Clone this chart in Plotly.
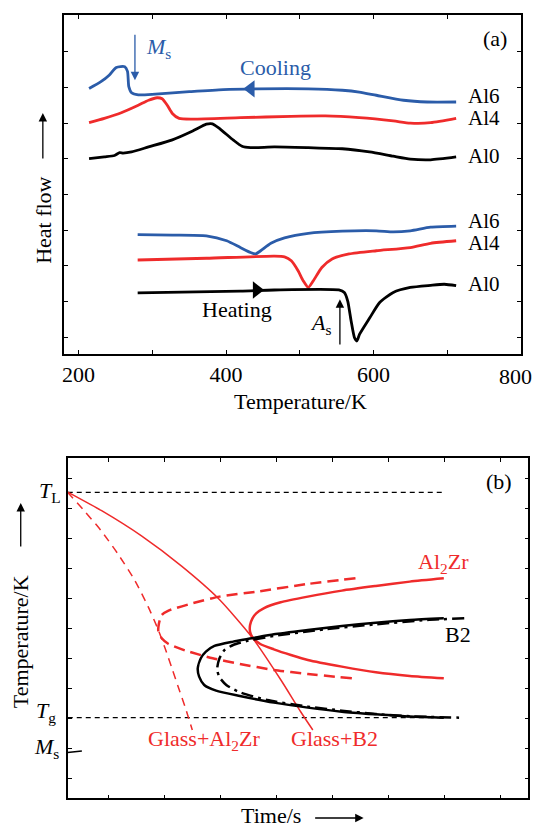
import plotly.graph_objects as go

BLUE = "#2b5ca9"
RED = "#ef2b2b"
FONT = "Liberation Serif"
FS = 22

# ---------------- Panel (a): DSC curves ----------------
cool_al6_T = [214.3, 230.4, 241.9, 251.2, 262.7, 266.4, 268.2, 271.9, 281.1, 304.1, 350.2, 396.3, 442.4,
              511.5, 557.6, 580.6, 603.7, 640.6, 672.8, 712.0]
cool_al6_H = [6.97, 7.16, 7.35, 7.56, 7.58, 7.45, 7.02, 6.85, 6.79, 6.81, 6.88, 6.94, 6.96,
              6.96, 6.92, 6.87, 6.78, 6.64, 6.59, 6.59]

cool_al4_T = [214.3, 235.0, 258.0, 281.0, 295.0, 306.5, 313.4, 320.3, 327.2, 336.4, 354.8, 419.4, 488.5,
              534.6, 580.6, 626.7, 649.8, 677.4, 712.0]
cool_al4_H = [6.01, 6.13, 6.29, 6.50, 6.64, 6.71, 6.68, 6.50, 6.27, 6.13, 6.11, 6.15, 6.19,
              6.20, 6.15, 6.06, 6.00, 6.01, 6.13]

cool_al0_T = [214.3, 235.0, 248.8, 255.8, 260.4, 271.9, 294.9, 327.2, 354.8, 373.3, 381.6, 391.7, 410.1,
              421.7, 433.2, 465.4, 511.5, 557.6, 594.5, 626.7, 649.8, 677.4, 712.0]
cool_al0_H = [5.00, 5.05, 5.09, 5.17, 5.16, 5.19, 5.33, 5.53, 5.78, 5.97, 5.98, 5.84, 5.52,
              5.35, 5.31, 5.33, 5.31, 5.28, 5.19, 5.07, 4.99, 4.97, 5.05]

heat_al6_T = [280.2, 327.2, 373.3, 400.9, 419.4, 433.2, 440.1, 447.0, 460.8, 479.3, 511.5, 557.6,
              603.7, 626.7, 649.8, 677.4, 712.0]
heat_al6_H = [2.87, 2.86, 2.84, 2.70, 2.51, 2.37, 2.33, 2.42, 2.63, 2.78, 2.91, 2.97,
              2.98, 2.95, 2.98, 3.08, 3.11]

heat_al4_T = [280.2, 373.3, 465.4, 479.3, 488.5, 497.7, 504.6, 511.5, 518.4, 529.9, 543.8, 566.8,
              603.7, 649.8, 677.4, 712.0]
heat_al4_H = [2.16, 2.21, 2.27, 2.25, 2.14, 1.86, 1.58, 1.39, 1.58, 1.95, 2.19, 2.33,
              2.42, 2.51, 2.63, 2.70]

heat_al0_T = [280.2, 419.4, 465.4, 553.0, 560.4, 565.0, 569.6, 574.2, 577.4, 581.1, 594.9, 608.3,
              626.7, 649.8, 677.4, 695.9, 712.0]
heat_al0_H = [1.24, 1.29, 1.32, 1.32, 1.25, 1.01, 0.45, -0.02, -0.11, 0.08, 0.54, 0.97,
              1.25, 1.39, 1.45, 1.48, 1.44]

a_xticks = [200, 300, 400, 500, 600, 700, 800]
a_xticklabels = ["200", "", "400", "", "600", "", ""]   # "800" drawn separately so it stays inside the page
a_last_label = "800"
a_yticks = [0, 1, 2, 3, 4, 5, 6, 7, 8]

# direction markers on the curves
cool_arrow_T, cool_arrow_H = [433.6], [6.96]
heat_arrow_T, heat_arrow_H = [441.5], [1.32]

# ---------------- Panel (b): TTT diagram ----------------
TL_level = 9.53
Tg_level = 2.02
Ms_seg_X = [0.273, 0.528]
Ms_seg_Y = [0.856, 0.911]

cool_solid_X = [0.276, 0.881, 1.593, 2.304, 2.980, 3.568, 4.084, 4.440, 4.654]
cool_solid_Y = [9.540, 8.920, 8.080, 7.080, 5.970, 4.700, 3.277, 2.210, 1.610]

cool_dash_X = [0.273, 0.558, 0.862, 1.165, 1.469, 1.712, 1.894, 2.015, 2.137, 2.258, 2.380, 2.501]
cool_dash_Y = [9.533, 8.944, 8.278, 7.500, 6.611, 5.722, 4.944, 4.333, 3.667, 3.000, 2.333, 1.611]

al2zr_solid_X = [6.994, 6.387, 5.780, 5.173, 4.565, 4.080, 3.776, 3.643, 3.576, 3.533, 3.533, 3.576,
                 3.715, 3.958, 4.262, 4.565, 5.173, 5.780, 6.387, 6.994]
al2zr_solid_Y = [6.667, 6.556, 6.411, 6.256, 6.056, 5.867, 5.667, 5.500, 5.333, 5.111, 4.889, 4.700,
                 4.478, 4.300, 4.111, 3.944, 3.722, 3.533, 3.411, 3.333]

al2zr_dash_X = [5.416, 4.565, 3.655, 2.987, 2.501, 2.076, 1.955, 1.906, 1.894, 1.955, 2.076, 2.380,
                2.865, 3.351, 3.958, 4.565, 5.355]
al2zr_dash_Y = [6.667, 6.478, 6.222, 6.056, 5.833, 5.589, 5.444, 5.167, 4.889, 4.667, 4.478, 4.256,
                4.000, 3.811, 3.611, 3.478, 3.333]

b2_solid_X = [6.994, 6.387, 5.780, 5.173, 4.565, 3.958, 3.564, 3.230, 2.896, 2.744, 2.653, 2.598,
              2.623, 2.714, 2.926, 3.351, 3.958, 4.565, 5.173, 5.780, 6.387, 6.994]
b2_solid_Y = [5.333, 5.278, 5.189, 5.078, 4.944, 4.800, 4.667, 4.556, 4.411, 4.222, 4.000, 3.667,
              3.389, 3.111, 2.922, 2.744, 2.522, 2.356, 2.222, 2.133, 2.056, 2.022]

b2_dashdot_X = [7.359, 6.691, 5.780, 4.869, 3.958, 3.473, 3.230, 3.078, 2.987, 2.944, 2.987, 3.108,
                3.351, 3.837, 4.565, 5.173, 5.780, 6.387, 7.267]
b2_dashdot_Y = [5.333, 5.278, 5.133, 4.967, 4.744, 4.578, 4.444, 4.278, 4.000, 3.633, 3.367, 3.111,
                2.867, 2.611, 2.389, 2.256, 2.144, 2.067, 2.022]

b_xticks = [1, 2, 3, 4, 5, 6, 7, 8]
b_yticks = [0, 1, 2, 3, 4, 5, 6, 7, 8, 9, 10]

fig = go.Figure()

def line(x, y, color, width, dash="solid", xa="x", ya="y"):
    fig.add_trace(go.Scatter(x=x, y=y, mode="lines", xaxis=xa, yaxis=ya,
                             line=dict(color=color, width=width, dash=dash, shape="spline", smoothing=0.6),
                             hoverinfo="skip", showlegend=False))

# panel (a)
line(cool_al6_T, cool_al6_H, BLUE, 2.8)
line(cool_al4_T, cool_al4_H, RED, 2.8)
line(cool_al0_T, cool_al0_H, "black", 2.8)
line(heat_al6_T, heat_al6_H, BLUE, 2.8)
line(heat_al4_T, heat_al4_H, RED, 2.8)
line(heat_al0_T, heat_al0_H, "black", 2.8)
fig.add_trace(go.Scatter(x=cool_arrow_T, y=cool_arrow_H, mode="markers", xaxis="x", yaxis="y",
                         marker=dict(symbol="triangle-left", size=15, color=BLUE), showlegend=False))
fig.add_trace(go.Scatter(x=heat_arrow_T, y=heat_arrow_H, mode="markers", xaxis="x", yaxis="y",
                         marker=dict(symbol="triangle-right", size=15, color="black"), showlegend=False))

# panel (b)
x2_lo, x2_hi = 0.276, 8.504
fig.add_trace(go.Scatter(x=[x2_lo, 6.964], y=[TL_level, TL_level], mode="lines", xaxis="x2", yaxis="y2",
                         line=dict(color="black", width=1.2, dash="5px,4px"), showlegend=False))
fig.add_trace(go.Scatter(x=[x2_lo, 6.994], y=[Tg_level, Tg_level], mode="lines", xaxis="x2", yaxis="y2",
                         line=dict(color="black", width=1.2, dash="5px,4px"), showlegend=False))
fig.add_trace(go.Scatter(x=Ms_seg_X, y=Ms_seg_Y, mode="lines", xaxis="x2", yaxis="y2",
                         line=dict(color="black", width=1.5), showlegend=False))
line(cool_solid_X, cool_solid_Y, RED, 1.5, xa="x2", ya="y2")
line(cool_dash_X, cool_dash_Y, RED, 1.5, dash="8px,6px", xa="x2", ya="y2")
line(al2zr_dash_X, al2zr_dash_Y, RED, 2.5, dash="11px,6px", xa="x2", ya="y2")
line(al2zr_solid_X, al2zr_solid_Y, RED, 2.5, xa="x2", ya="y2")
line(b2_dashdot_X, b2_dashdot_Y, "black", 2.5, dash="12px,5px,3px,5px", xa="x2", ya="y2")
line(b2_solid_X, b2_solid_Y, "black", 2.5, xa="x2", ya="y2")

ann = []

def text(x, y, s, xref="x", yref="y", color="black", xanchor="center", size=FS, angle=0):
    ann.append(dict(x=x, y=y, xref=xref, yref=yref, text=s, showarrow=False, xanchor=xanchor,
                    yanchor="middle", textangle=angle, font=dict(family=FONT, size=size, color=color)))

def arrow(x, y, ax, ay, xref, yref, axref, ayref, color="black", width=1.3):
    ann.append(dict(x=x, y=y, ax=ax, ay=ay, xref=xref, yref=yref, axref=axref, ayref=ayref, text="",
                    showarrow=True, arrowhead=2, arrowsize=1.3, arrowwidth=width, arrowcolor=color,
                    standoff=0, startstandoff=0))

# panel (a) texts
text(764.5, 8.38, "(a)")
text(467, 7.56, "Cooling", color=BLUE)
text(414.7, 0.78, "Heating")
text(289.4, 8.1, "<i>M</i><sub>s</sub>", color=BLUE, xanchor="left")
text(544.7, 0.375, "<i>A</i><sub>s</sub>", xanchor="right")
for v, s in [(6.75, "Al6"), (6.15, "Al4"), (5.09, "Al0"), (3.25, "Al6"), (2.65, "Al4"), (1.50, "Al0")]:
    text(725.8, v, s, xanchor="left", size=21)
arrow(276.5, 7.2, 276.5, 8.52, "x", "y", "x", "y", color=BLUE)
arrow(554.4, 1.06, 554.4, -0.25, "x", "y", "x", "y")
# last x tick label of panel (a), kept inside the page
ann.append(dict(x=534 / 535, y=1 - 376.7 / 829, xref="paper", yref="paper", text=a_last_label,
                showarrow=False, xanchor="right", yanchor="middle",
                font=dict(family=FONT, size=FS, color="black")))

# axis titles panel (a)
text(300 / 535, 1 - 401.7 / 829, "Temperature/K", xref="paper", yref="paper")
text(41 / 535, 1 - 220 / 829, "Heat flow", xref="paper", yref="paper", angle=-90)
ann.append(dict(x=41 / 535, y=1 - 113 / 829, xref="paper", yref="paper", ax=0, ay=47, text="",
                showarrow=True, arrowhead=2, arrowsize=1.3, arrowwidth=1.3, arrowcolor="black"))

# panel (b) texts
text(7.98, 9.89, "(b)", xref="x2", yref="y2")
text(6.98, 7.19, "Al<sub>2</sub>Zr", xref="x2", yref="y2", color=RED)
text(7.24, 4.78, "B2", xref="x2", yref="y2")
text(2.71, 1.26, "Glass+Al<sub>2</sub>Zr", xref="x2", yref="y2", color=RED)
text(5.05, 1.32, "Glass+B2", xref="x2", yref="y2", color=RED)
text(61 / 535, TL_level, "<i>T</i><sub>L</sub>", xref="paper", yref="y2", xanchor="right")
text(56 / 535, Tg_level + 0.18, "<i>T</i><sub>g</sub>", xref="paper", yref="y2", xanchor="right")
text(59 / 535, 1.0, "<i>M</i><sub>s</sub>", xref="paper", yref="y2", xanchor="right")
arrow(cool_solid_X[-1], cool_solid_Y[-1], 4.62, 1.70, "x2", "y2", "x2", "y2", color=RED, width=1.5)
arrow(cool_dash_X[-1], cool_dash_Y[-1], 2.49, 1.70, "x2", "y2", "x2", "y2", color=RED, width=1.5)

text(270 / 535, 1 - 815 / 829, "Time/s", xref="paper", yref="paper")
ann.append(dict(x=363 / 535, y=1 - 818 / 829, xref="paper", yref="paper", ax=-50, ay=0, text="",
                showarrow=True, arrowhead=2, arrowsize=1.3, arrowwidth=1.3, arrowcolor="black"))
text(18.8 / 535, 1 - 641.5 / 829, "Temperature/K", xref="paper", yref="paper", angle=-90)
ann.append(dict(x=18.8 / 535, y=1 - 503 / 829, xref="paper", yref="paper", ax=0, ay=45, text="",
                showarrow=True, arrowhead=2, arrowsize=1.3, arrowwidth=1.3, arrowcolor="black"))

axis_common = dict(showline=True, linecolor="black", linewidth=1.5, mirror="allticks", ticks="inside",
                   ticklen=4, tickwidth=1, tickcolor="black", showgrid=False, zeroline=False,
                   tickfont=dict(family=FONT, size=FS, color="black"))

fig.update_layout(
    width=535, height=829, margin=dict(l=0, r=0, t=0, b=0),
    paper_bgcolor="white", plot_bgcolor="white", showlegend=False,
    xaxis=dict(domain=[62 / 535, 521 / 535], range=[180, 800], tickmode="array", tickvals=a_xticks,
               ticktext=a_xticklabels, anchor="y", **axis_common),
    yaxis=dict(domain=[1 - 354 / 829, 1 - 15 / 829], range=[-0.475, 9.03], tickmode="array",
               tickvals=a_yticks, showticklabels=False, anchor="x", **axis_common),
    xaxis2=dict(domain=[66 / 535, 528.3 / 535], range=[x2_lo, x2_hi], tickmode="array", tickvals=b_xticks,
                showticklabels=False, anchor="y2", **axis_common),
    yaxis2=dict(domain=[1 - 798.3 / 829, 1 - 458.3 / 829], range=[-0.667, 10.667], tickmode="array",
                tickvals=b_yticks, showticklabels=False, anchor="x2", **axis_common),
    annotations=ann,
)

fig.write_html("out.html")
